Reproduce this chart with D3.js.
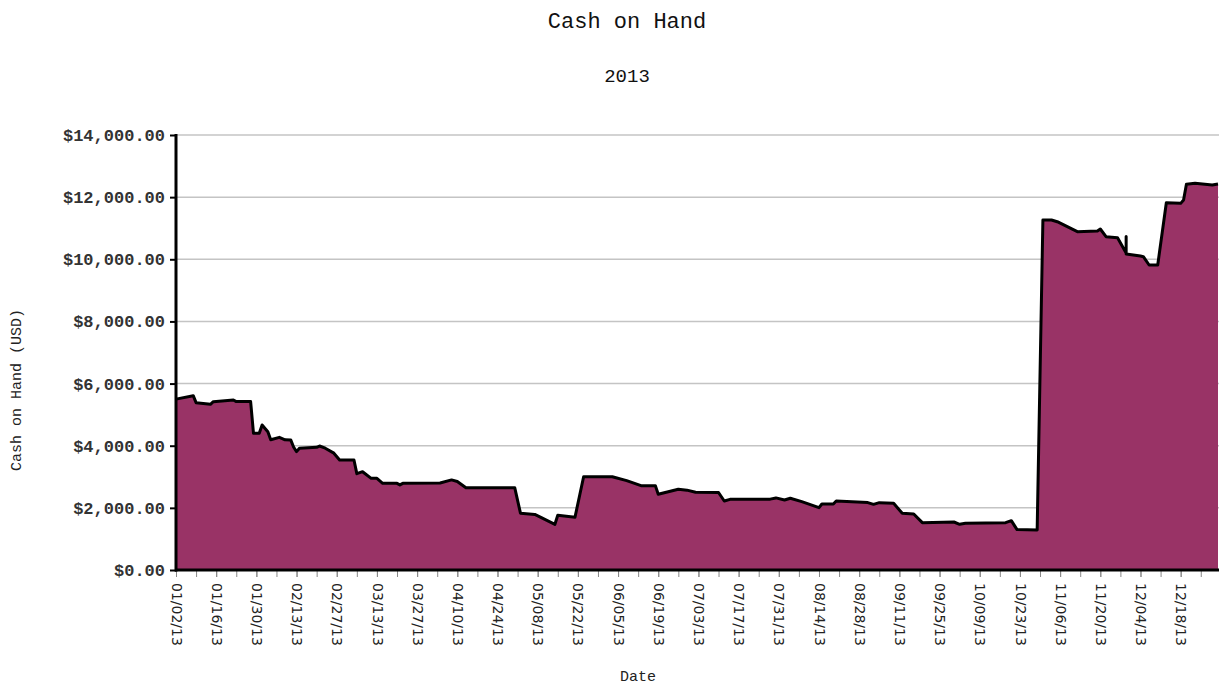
<!DOCTYPE html>
<html>
<head>
<meta charset="utf-8">
<script src="https://cdn.jsdelivr.net/npm/d3@7"></script>
<style>
  html, body { margin: 0; padding: 0; background: #fff; }
  svg { display: block; }
</style>
</head>
<body>
<svg id="chart" width="1219" height="687"></svg>
<script>
// ---------- data ----------
const dates = [
  "2013-01-02","2013-01-08","2013-01-09","2013-01-14","2013-01-15","2013-01-22","2013-01-23","2013-01-28",
  "2013-01-29","2013-01-31","2013-02-01","2013-02-03","2013-02-04","2013-02-07","2013-02-09","2013-02-11",
  "2013-02-12","2013-02-13","2013-02-14","2013-02-20","2013-02-21","2013-02-23","2013-02-26","2013-02-28",
  "2013-03-05","2013-03-06","2013-03-08","2013-03-11","2013-03-13","2013-03-15","2013-03-20","2013-03-21",
  "2013-03-22","2013-04-04","2013-04-08","2013-04-10","2013-04-13","2013-04-30","2013-05-02","2013-05-07",
  "2013-05-14","2013-05-15","2013-05-21","2013-05-24","2013-06-03","2013-06-08","2013-06-13","2013-06-18",
  "2013-06-19","2013-06-26","2013-06-29","2013-07-02","2013-07-10","2013-07-12","2013-07-14","2013-07-28",
  "2013-07-30","2013-08-02","2013-08-04","2013-08-08","2013-08-14","2013-08-15","2013-08-19","2013-08-20",
  "2013-08-31","2013-09-02","2013-09-04","2013-09-09","2013-09-12","2013-09-16","2013-09-19","2013-09-30",
  "2013-10-02","2013-10-04","2013-10-18","2013-10-20","2013-10-22","2013-10-29","2013-10-31","2013-11-03",
  "2013-11-05","2013-11-12","2013-11-19","2013-11-20","2013-11-22","2013-11-26","2013-11-29","2013-11-29",
  "2013-11-29","2013-12-04","2013-12-05","2013-12-07","2013-12-10","2013-12-13","2013-12-18","2013-12-19",
  "2013-12-20","2013-12-23","2013-12-29","2013-12-31"
];
const cash = [
  5500,5610,5385,5333,5417,5470,5420,5420,
  4400,4400,4667,4450,4190,4270,4190,4180,
  3950,3810,3920,3950,3990,3920,3760,3540,
  3540,3100,3164,2950,2950,2790,2790,2740,
  2790,2800,2900,2850,2650,2650,1830,1790,
  1470,1760,1700,3000,3000,2875,2715,2715,
  2440,2600,2570,2500,2495,2220,2275,2280,
  2320,2253,2310,2200,2005,2124,2124,2220,
  2170,2114,2168,2146,1824,1803,1524,1545,
  1471,1503,1524,1588,1300,1287,11265,11265,
  11210,10890,10911,10975,10728,10695,10200,10730,
  10170,10106,10084,9816,9816,11822,11800,11909,
  12414,12446,12391,12424
];
const xTickLabels = ["01/02/13","01/16/13","01/30/13","02/13/13","02/27/13","03/13/13","03/27/13",
  "04/10/13","04/24/13","05/08/13","05/22/13","06/05/13","06/19/13","07/03/13","07/17/13","07/31/13",
  "08/14/13","08/28/13","09/11/13","09/25/13","10/09/13","10/23/13","11/06/13","11/20/13","12/04/13","12/18/13"];
const yTicks = [0,2000,4000,6000,8000,10000,12000,14000];
const xDomain = ["2013-01-02","2013-12-31"];
const title = "Cash on Hand";
const subtitle = "2013";
const yTitle = "Cash on Hand (USD)";
const xTitle = "Date";

// ---------- chart ----------
(function () {
const parse = d3.timeParse("%Y-%m-%d");
const parseTick = d3.timeParse("%m/%d/%y");
const data = dates.map((d,i) => ({date: parse(d), value: cash[i]}));

const pL = 176, pR = 1218, pT = 135, pB = 570;
const x = d3.scaleTime().domain(xDomain.map(parse)).range([pL, pR]);
const y = d3.scaleLinear().domain([0, 14000]).range([pB, pT]);

const svg = d3.select("#chart");
const mono = "'Liberation Mono', 'Courier New', monospace";

// titles
svg.append("text").attr("x", 627).attr("y", 28).attr("text-anchor","middle")
  .style("font-family", mono).style("font-size","22px").attr("fill","#111").text(title);
svg.append("text").attr("x", 627).attr("y", 82).attr("text-anchor","middle")
  .style("font-family", mono).style("font-size","19px").attr("fill","#111").text(subtitle);

// grid lines
svg.append("g").selectAll("line").data(yTicks.filter(v => v > 0)).join("line")
  .attr("x1", pL).attr("x2", 1219)
  .attr("y1", d => y(d)).attr("y2", d => y(d))
  .attr("stroke", "#c4c4c4").attr("stroke-width", 1.5);

// area + line
const area = d3.area().x(d => x(d.date)).y0(y(0)).y1(d => y(d.value));
const line = d3.line().x(d => x(d.date)).y(d => y(d.value));
svg.append("path").datum(data).attr("d", area).attr("fill", "#993366");
svg.append("path").datum(data).attr("d", line).attr("fill","none")
  .attr("stroke","#000").attr("stroke-width", 3).attr("stroke-linejoin","round");

// x axis: minor weekly ticks
const majorTicks = xTickLabels.map(parseTick);
const minorTicks = d3.timeDay.range(parse("2013-01-02"), parse("2013-12-31"), 1)
  .filter((d,i) => i % 7 === 0);
const xMinor = svg.append("g").attr("transform", `translate(0,${pB})`)
  .call(d3.axisBottom(x).tickValues(minorTicks).tickSize(7).tickFormat(""));
xMinor.select(".domain").remove();
xMinor.selectAll(".tick line").attr("stroke","#888").attr("stroke-width",1);

const xMajor = svg.append("g").attr("transform", `translate(0,${pB})`)
  .call(d3.axisBottom(x).tickValues(majorTicks).tickSize(7).tickFormat(d3.timeFormat("%m/%d/%y")));
xMajor.select(".domain").remove();
xMajor.selectAll(".tick line").attr("stroke","#888").attr("stroke-width",1);
xMajor.selectAll(".tick text")
  .attr("transform","translate(0,13) rotate(90)")
  .attr("x", 0).attr("y", 0).attr("dy","0.35em")
  .attr("text-anchor","start")
  .style("font-family","'DejaVu Sans', Verdana, sans-serif").style("font-size","14px")
  .attr("fill","#222");

// bottom axis line
svg.append("line").attr("x1", pL - 1).attr("x2", 1219).attr("y1", pB).attr("y2", pB)
  .attr("stroke","#000").attr("stroke-width", 3);

// y axis
const yAxis = svg.append("g").attr("transform", `translate(${pL},0)`)
  .call(d3.axisLeft(y).tickValues(yTicks).tickSize(6).tickPadding(5).tickFormat(d3.format("$,.2f")));
yAxis.select(".domain").remove();
yAxis.selectAll(".tick line").attr("stroke","#000").attr("stroke-width",2);
yAxis.selectAll(".tick text")
  .style("font-family", mono).style("font-size","17px").style("font-weight","bold")
  .attr("fill","#333");
svg.append("line").attr("x1", pL).attr("x2", pL).attr("y1", pT - 1).attr("y2", pB + 1.5)
  .attr("stroke","#000").attr("stroke-width", 3);

// axis titles
svg.append("text").attr("transform", "translate(21,390) rotate(-90)").attr("text-anchor","middle")
  .style("font-family", mono).style("font-size","15px").attr("fill","#222").text(yTitle);
svg.append("text").attr("x", 638).attr("y", 681).attr("text-anchor","middle")
  .style("font-family", mono).style("font-size","15px").attr("fill","#222").text(xTitle);
})();
</script>
</body>
</html>
